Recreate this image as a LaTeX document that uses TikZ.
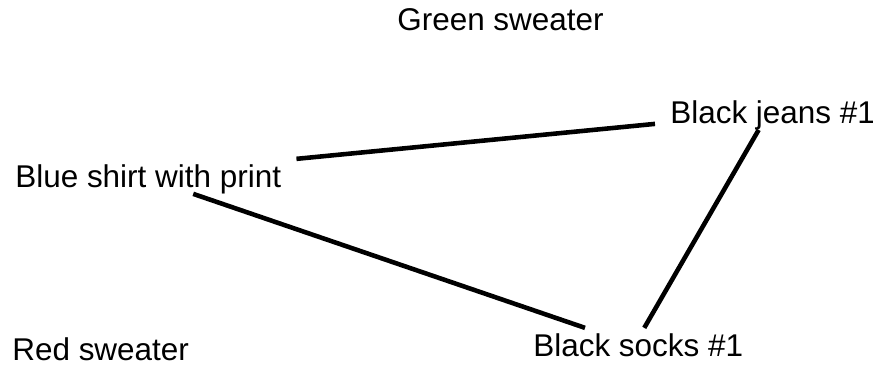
\documentclass[tikz,border=0pt]{standalone}
\usepackage{fontspec}
\setmainfont{Liberation Sans}
\usepackage{tikz}
\usetikzlibrary{positioning,calc}
\tikzset{
  item/.style={anchor=base west, inner sep=0pt, font=\fontsize{17.9}{21}\selectfont},
  link/.style={line width=2.6pt}
}
\begin{document}
\begin{tikzpicture}
        \useasboundingbox (0,0) rectangle (17.46,7.32);
        \foreach \x/\y/\name/\txt in {7.94/6.72/green/Green sweater,13.40/4.86/jeans/Black jeans \#1,0.30/3.58/blue/Blue shirt with print,0.24/0.12/red/Red sweater,10.66/0.20/socks/Black socks \#1}{\node[item] (\name) at (\x,\y) {\txt};}
       \draw[link] ([shift={(0.3,0.1)}]blue.north east) -- ([shift={(-0.3,0.12)}]jeans.south west);
       \draw[link] ([xshift=0.9cm]blue.south) -- ([shift={(1.04,0.1)}]socks.north west);
       \draw[link] ([xshift=-0.28cm]jeans.south) -- ([shift={(0.12,0.1)}]socks.north);
    \end{tikzpicture}
\end{document}
